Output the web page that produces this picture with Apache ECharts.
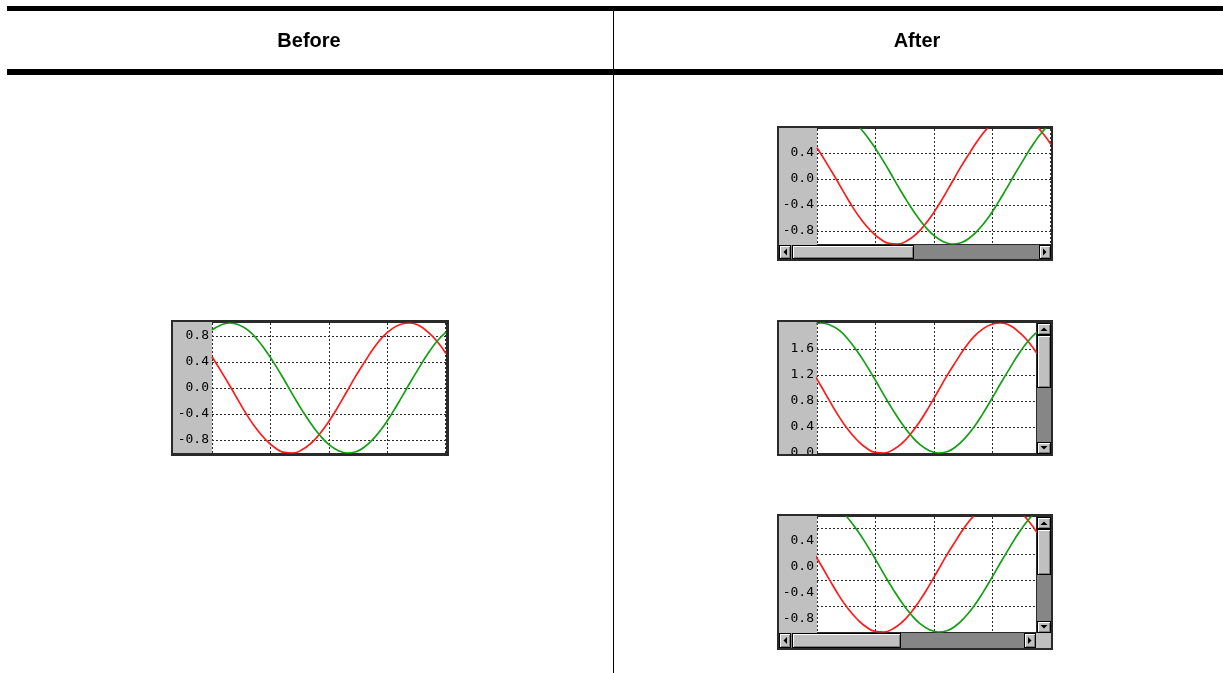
<!DOCTYPE html>
<html>
<head>
<meta charset="utf-8">
<script src="https://cdn.jsdelivr.net/npm/echarts@6/dist/echarts.min.js"></script>
<style>
  html, body { margin: 0; padding: 0; background: #fff; }
  #chart { width: 1223px; height: 673px; }
</style>
</head>
<body>
<div id="chart"></div>
<script>
// ---- data ----
const titles = ['Before', 'After'];
const xSamples = [0, 9, 18, 27, 36, 45, 54, 63, 72, 81, 90, 99, 108, 117, 126, 135, 144, 153, 162, 171, 180, 189, 198, 207, 216, 225, 234];
const redValues = [0.48, 0.26, 0.03, -0.21, -0.44, -0.64, -0.80, -0.92, -0.99, -1.00, -0.95, -0.85, -0.70, -0.51, -0.29, -0.05, 0.19, 0.41, 0.62, 0.79, 0.91, 0.98, 1.00, 0.96, 0.86, 0.72, 0.53];
const greenValues = [0.89, 0.97, 1.00, 0.97, 0.89, 0.75, 0.57, 0.36, 0.13, -0.11, -0.34, -0.55, -0.73, -0.87, -0.96, -1.00, -0.98, -0.90, -0.77, -0.60, -0.39, -0.16, 0.08, 0.31, 0.53, 0.72, 0.86];
const ticksBefore = [-0.8, -0.4, 0.0, 0.4, 0.8];
const ticksAfterScroll = [-0.8, -0.4, 0.0, 0.4];
const ticksAfterShift = [0.0, 0.4, 0.8, 1.2, 1.6];
const gridAfterBoth = [-1.0, -0.6, -0.2, 0.2, 0.6];
const valueShiftMid = 1.0;

// ---- layout ----
const vGridOffsets = [0, 58.5, 117, 175.5, 233];
const charts = [
  { plot: [212, 323, 234, 130], x: [0, 234], y: [-1, 1], labels: ticksBefore, grid: ticksBefore, shift: 0 },
  { plot: [817, 129, 234, 115], x: [0, 234], y: [-1, 0.769], labels: ticksAfterScroll, grid: ticksAfterScroll, shift: 0 },
  { plot: [817, 323, 219, 130], x: [14, 233], y: [0, 2], labels: ticksAfterShift, grid: ticksAfterShift, shift: valueShiftMid },
  { plot: [817, 517, 219, 115], x: [14, 233], y: [-1, 0.769], labels: ticksAfterScroll, grid: gridAfterBoth, shift: 0 }
];

function box(x, y, w, h, fill, z) {
  return { type: 'rect', silent: true, z: z, shape: { x: x, y: y, width: w, height: h }, style: { fill: fill } };
}
function bevel(x, y, w, h) {
  return [
    box(x, y, w, h, '#000', 5),
    box(x + 1, y + 1, w - 2, h - 2, '#fff', 6),
    box(x + 2, y + 2, w - 3, h - 3, '#808080', 7),
    box(x + 2, y + 2, w - 4, h - 4, '#c0c0c0', 8)
  ];
}
function arrow(cx, cy, dir) {
  let pts;
  if (dir === 'left') pts = [[cx + 2, cy - 3.5], [cx + 2, cy + 3.5], [cx - 1.5, cy]];
  else if (dir === 'right') pts = [[cx - 2, cy - 3.5], [cx - 2, cy + 3.5], [cx + 1.5, cy]];
  else if (dir === 'up') pts = [[cx - 3.5, cy + 2], [cx + 3.5, cy + 2], [cx, cy - 1.5]];
  else pts = [[cx - 3.5, cy - 2], [cx + 3.5, cy - 2], [cx, cy + 1.5]];
  return { type: 'polygon', silent: true, z: 9, shape: { points: pts }, style: { fill: '#000' } };
}
function hScroll(x, y, w, h, thumbStart, thumbEnd) {
  const bw = 12;
  let els = [box(x, y, w, h, '#868686', 4)];
  els = els.concat(bevel(x, y, bw, h), [arrow(x + bw / 2, y + h / 2, 'left')]);
  els = els.concat(bevel(thumbStart, y, thumbEnd - thumbStart, h));
  els = els.concat(bevel(x + w - bw, y, bw, h), [arrow(x + w - bw / 2, y + h / 2, 'right')]);
  return els;
}
function vScroll(x, y, w, h, thumbStart, thumbEnd) {
  const bh = 12;
  let els = [box(x, y, w, h, '#868686', 4)];
  els = els.concat(bevel(x, y, w, bh), [arrow(x + w / 2, y + bh / 2, 'up')]);
  els = els.concat(bevel(x, thumbStart, w, thumbEnd - thumbStart));
  els = els.concat(bevel(x, y + h - bh, w, bh), [arrow(x + w / 2, y + h - bh / 2, 'down')]);
  return els;
}

let graphics = [];
// table rules
graphics.push(box(7, 6, 1216, 5, '#000', 1));
graphics.push(box(7, 69, 1216, 6, '#000', 1));
graphics.push(box(613, 11, 1, 662, '#000', 1));
const headFont = 'bold 20px "Liberation Sans", Arial, sans-serif';
graphics.push({ type: 'text', silent: true, z: 1, style: { text: titles[0], x: 309, y: 41, textAlign: 'center', textVerticalAlign: 'middle', font: headFont, fill: '#000' } });
graphics.push({ type: 'text', silent: true, z: 1, style: { text: titles[1], x: 917, y: 41, textAlign: 'center', textVerticalAlign: 'middle', font: headFont, fill: '#000' } });

// widget frames
// Before
graphics.push(box(171, 320, 278, 136, '#2a2a2a', -10));
graphics.push(box(173, 322, 39, 131, '#c0c0c0', -9));
// After top
graphics.push(box(777, 126, 276, 135, '#2a2a2a', -10));
graphics.push(box(779, 128, 38, 117, '#c0c0c0', -9));
graphics = graphics.concat(hScroll(779, 245, 272, 14, 792, 914));
// After middle
graphics.push(box(777, 320, 276, 136, '#2a2a2a', -10));
graphics.push(box(779, 322, 38, 132, '#c0c0c0', -9));
graphics = graphics.concat(vScroll(1037, 323, 14, 131, 335, 388));
graphics.push(box(777, 454, 276, 2, '#2a2a2a', 100));
graphics.push(box(770, 456, 290, 8, '#fff', 100));
// After bottom
graphics.push(box(777, 514, 276, 136, '#2a2a2a', -10));
graphics.push(box(779, 516, 38, 117, '#c0c0c0', -9));
graphics = graphics.concat(vScroll(1037, 517, 14, 116, 529, 575));
graphics = graphics.concat(hScroll(779, 633, 257, 15, 792, 901));
graphics.push(box(1036, 633, 15, 15, '#c0c0c0', 4));

const labelFont = { fontFamily: '"DejaVu Sans Mono", monospace', fontSize: 13, color: '#000' };
const dotted = { color: '#2a2a2a', type: [2, 2], width: 1 };

const option = {
  animation: false,
  backgroundColor: '#fff',
  grid: charts.map(c => ({ left: c.plot[0], top: c.plot[1], width: c.plot[2], height: c.plot[3], show: true, backgroundColor: '#fff', borderWidth: 0 })),
  xAxis: charts.map((c, i) => ({
    gridIndex: i, type: 'value', min: c.x[0], max: c.x[1],
    axisLine: { show: false }, axisLabel: { show: false },
    axisTick: { show: false, customValues: vGridOffsets.filter(o => o < c.plot[2]).map(o => c.x[0] + o) },
    splitLine: { show: true, lineStyle: dotted }
  })),
  yAxis: charts.map((c, i) => ({
    gridIndex: i, type: 'value', min: c.y[0], max: c.y[1],
    axisLine: { show: false },
    axisLabel: Object.assign({ show: true, margin: 3, customValues: c.labels, formatter: v => v.toFixed(1) }, labelFont),
    axisTick: { show: false, customValues: c.grid },
    splitLine: { show: true, lineStyle: dotted }
  })),
  series: [],
  graphic: graphics
};

charts.forEach((c, i) => {
  option.series.push({
    type: 'line', xAxisIndex: i, yAxisIndex: i, showSymbol: false, smooth: true, clip: true,
    lineStyle: { color: '#ff1a1a', width: 1.7 }, itemStyle: { color: '#ff1a1a' },
    data: xSamples.map((x, k) => [x, redValues[k] + c.shift])
  });
  option.series.push({
    type: 'line', xAxisIndex: i, yAxisIndex: i, showSymbol: false, smooth: true, clip: true,
    lineStyle: { color: '#12a012', width: 1.7 }, itemStyle: { color: '#12a012' },
    data: xSamples.map((x, k) => [x, greenValues[k] + c.shift])
  });
});

const chart = echarts.init(document.getElementById('chart'), null, { renderer: 'canvas' });
chart.setOption(option);
</script>
</body>
</html>
